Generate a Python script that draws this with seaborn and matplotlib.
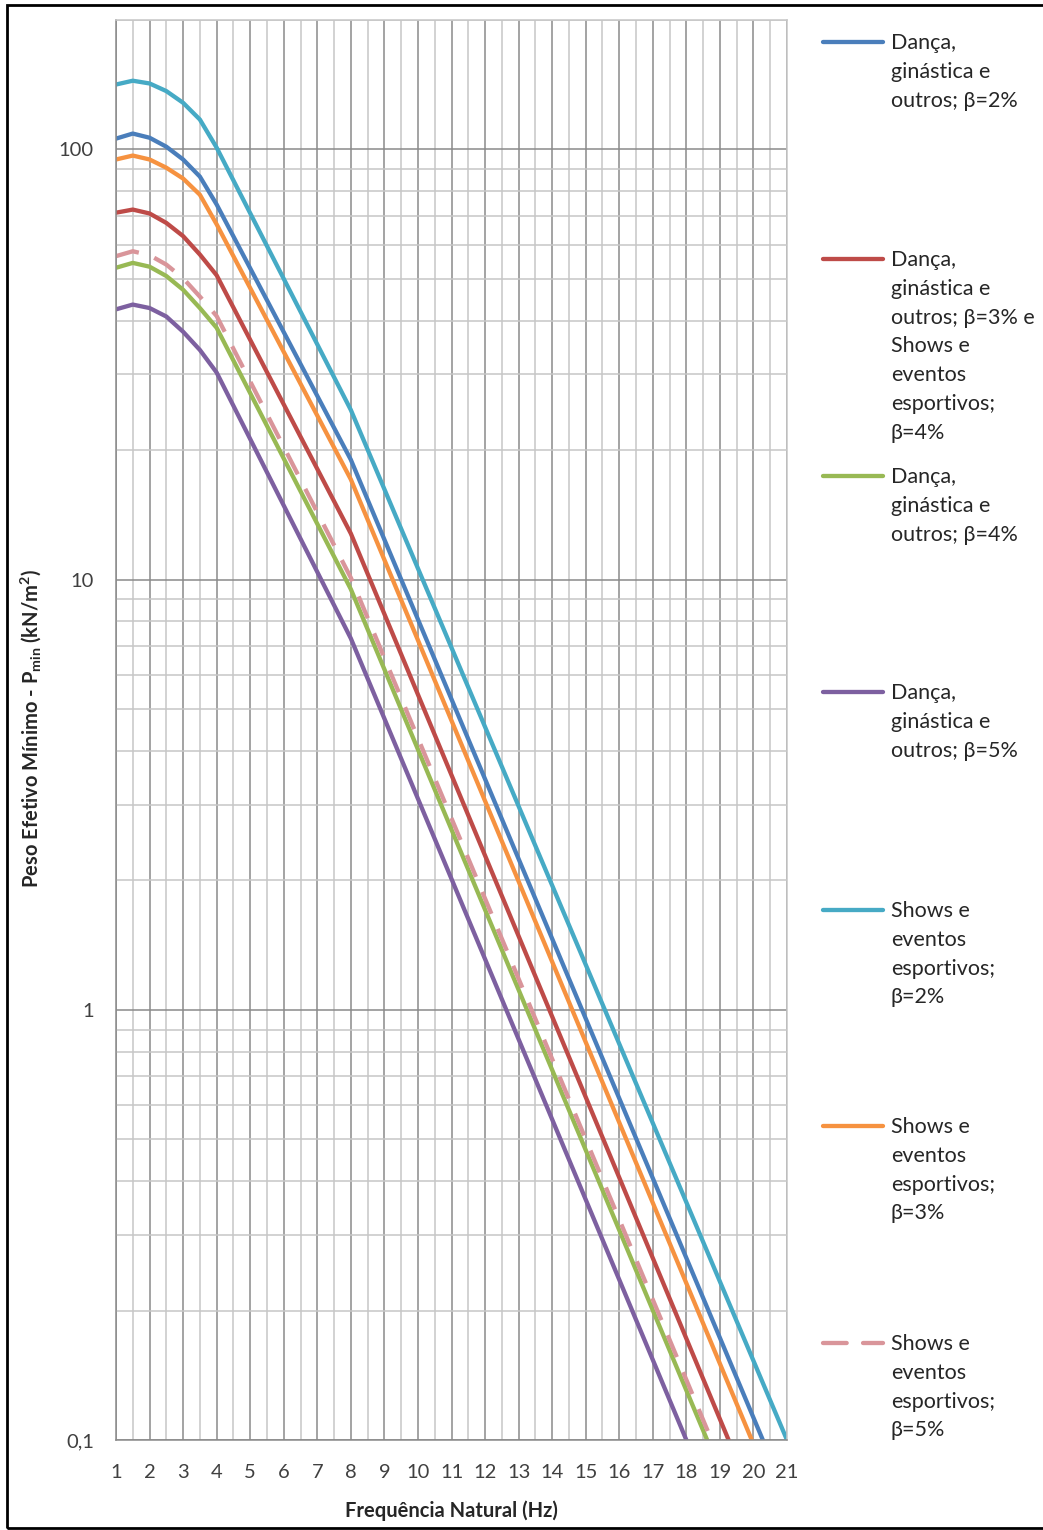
import numpy as np
import pandas as pd
import matplotlib
matplotlib.use("Agg")
import matplotlib.pyplot as plt
import matplotlib.ticker as mticker
from matplotlib.lines import Line2D
from matplotlib.patches import Rectangle
import seaborn as sns

# ---------------------------
# Data
# ---------------------------
series_names = [
    "Dança,\nginástica e\noutros; β=2%",
    "Dança,\nginástica e\noutros; β=3% e\nShows e\neventos\nesportivos;\nβ=4%",
    "Dança,\nginástica e\noutros; β=4%",
    "Dança,\nginástica e\noutros; β=5%",
    "Shows e\neventos\nesportivos;\nβ=2%",
    "Shows e\neventos\nesportivos;\nβ=3%",
    "Shows e\neventos\nesportivos;\nβ=5%",
]
colors = ["#4A7EBB", "#BE4B48", "#98B954", "#7D60A0", "#46AAC5", "#F69240", "#D9959A"]

freq_blue = [1, 1.5, 2, 2.5, 3, 3.5, 4, 8, 20.28]
pmin_blue = [106, 108.9, 106.5, 101.5, 94.8, 86.5, 74.5, 19.0, 0.1]

freq_red = [1, 1.5, 2, 2.5, 3, 3.5, 4, 8, 19.26]
pmin_red = [71.3, 72.5, 71.0, 67.5, 62.9, 57.0, 51.0, 12.8, 0.1]

freq_green = [1, 1.5, 2, 2.5, 3, 3.5, 4, 8, 18.62]
pmin_green = [53.1, 54.5, 53.4, 50.8, 47.2, 42.8, 38.5, 9.5, 0.1]

freq_purple = [1, 1.5, 2, 2.5, 3, 3.5, 4, 8, 18.0]
pmin_purple = [42.5, 43.6, 42.8, 40.9, 37.7, 34.2, 30.3, 7.3, 0.1]

freq_teal = [1, 1.5, 2, 2.5, 3, 3.5, 4, 8, 21.0]
pmin_teal = [141.6, 144.5, 142.4, 136.7, 128.4, 117.4, 101, 24.8, 0.1]

freq_orange = [1, 1.5, 2, 2.5, 3, 3.5, 4, 8, 19.95]
pmin_orange = [94.8, 96.8, 94.8, 90.7, 85.6, 78.5, 67.0, 17.1, 0.1]

freq_pink = [1, 1.5, 2, 2.5, 3, 3.5, 4, 8, 18.75]
pmin_pink = [56.5, 58.0, 56.8, 54.0, 50.2, 45.5, 41.0, 10.1, 0.1]

freqs = [freq_blue, freq_red, freq_green, freq_purple, freq_teal, freq_orange, freq_pink]
pmins = [pmin_blue, pmin_red, pmin_green, pmin_purple, pmin_teal, pmin_orange, pmin_pink]

x_ticks = list(range(1, 22))
y_ticks = [0.1, 1, 10, 100]
y_ticklabels = ["0,1", "1", "10", "100"]

rows = []
for name, fx, py in zip(series_names, freqs, pmins):
    for a, b in zip(fx, py):
        rows.append({"freq": a, "pmin": b, "serie": name})
df = pd.DataFrame(rows)

# ---------------------------
# Style
# ---------------------------
sns.set_style("white")
plt.rcParams["font.family"] = ["Lato", "DejaVu Sans"]
plt.rcParams["mathtext.fontset"] = "custom"
plt.rcParams["mathtext.bf"] = "Lato:bold"
plt.rcParams["mathtext.rm"] = "Lato"

fig = plt.figure(figsize=(10.43, 15.3), dpi=100)
W, H = 1043, 1530
ax = fig.add_axes([116 / W, 1 - 1440 / H, (787 - 116) / W, (1440 - 20) / H])

palette = dict(zip(series_names, colors))
dashes = {n: "" for n in series_names}
dashes[series_names[-1]] = (5.5, 3.8)

sns.lineplot(data=df, x="freq", y="pmin", hue="serie", style="serie",
             hue_order=series_names, style_order=series_names,
             palette=palette, dashes=dashes, estimator=None, sort=False,
             linewidth=3.1, legend=False, ax=ax)

ax.set_yscale("log")
ax.set_xlim(1, 21)
ax.set_ylim(0.1, 200)

ax.set_xticks(x_ticks)
ax.set_xticks(np.arange(1.5, 21, 1), minor=True)
ax.set_yticks(y_ticks)
ax.set_yticklabels(y_ticklabels)
ax.yaxis.set_minor_locator(mticker.LogLocator(base=10, subs=np.arange(2, 10)))
ax.yaxis.set_minor_formatter(mticker.NullFormatter())

ax.grid(which="major", color="#8a8a8a", linewidth=1.1)
ax.grid(which="minor", color="#c6c6c6", linewidth=1.1)
ax.set_axisbelow(True)

ax.tick_params(axis="both", which="major", direction="out", length=7, width=1.1,
               color="#8a8a8a", labelsize=14.5, labelcolor="#404040")
ax.tick_params(axis="x", which="major", pad=10)
ax.tick_params(axis="y", which="major", pad=9)
ax.tick_params(which="minor", length=0)

for side in ["left", "bottom"]:
    ax.spines[side].set_color("#8a8a8a")
    ax.spines[side].set_linewidth(1.1)
for side in ["top", "right"]:
    ax.spines[side].set_color("#c6c6c6")
    ax.spines[side].set_linewidth(1.1)

ax.set_xlabel("Frequência Natural (Hz)", fontsize=14.5, fontweight="bold", labelpad=14)
ax.set_ylabel(r"Peso Efetivo Mínimo - P$_{\mathregular{min}}$ (kN/m$^{\mathbf{2}}$)",
              fontsize=14.5, fontweight="bold")
ax.yaxis.set_label_coords((43 - 116) / (787 - 116), (1440 - 728) / (1440 - 20))

# ---------------------------
# Legend on the right, one entry every ~217 px
# ---------------------------
legend_y = [42, 259, 476, 692, 910, 1126, 1343]
for i, (name, col, ly) in enumerate(zip(series_names, colors, legend_y)):
    line = Line2D([823 / W, 883 / W], [1 - ly / H, 1 - ly / H], transform=fig.transFigure,
                  color=col, linewidth=3.1, solid_capstyle="round", dash_capstyle="round")
    if i == len(colors) - 1:
        line.set_dashes((5.5, 3.8))
    fig.add_artist(line)
    fig.text(891 / W, 1 - (ly - 9) / H, name, ha="left", va="top",
             fontsize=15.5, color="#262626", linespacing=1.55)

# outer frame
fig.add_artist(Rectangle((7 / W, 2 / H), 1.0, 1 - 7 / H, transform=fig.transFigure,
                         fill=False, edgecolor="black", linewidth=2, clip_on=False))

fig.savefig("out.png", dpi=100)
